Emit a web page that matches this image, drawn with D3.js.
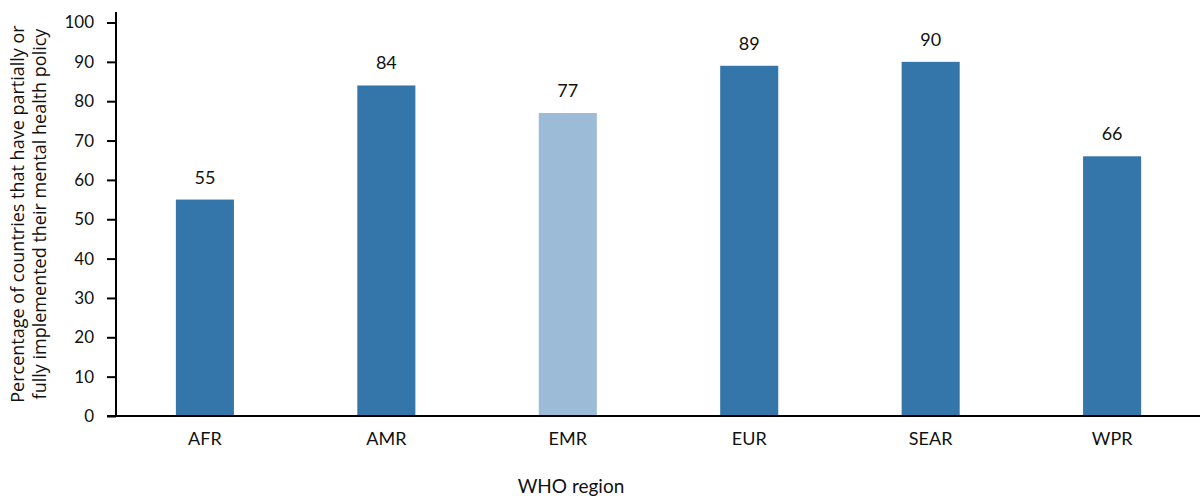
<!DOCTYPE html>
<html>
<head>
<meta charset="utf-8">
<script src="https://cdn.jsdelivr.net/npm/d3@7"></script>
<style>
  html, body { margin: 0; padding: 0; background: #fff; }
  svg text { font-family: "Lato", "Open Sans", sans-serif; fill: #111; }
</style>
</head>
<body>
<svg id="chart" width="1200" height="496"></svg>
<script>
// WHO regions and share of countries with a partially/fully implemented policy
const regions = ["AFR", "AMR", "EMR", "EUR", "SEAR", "WPR"];
const percentages = [55, 84, 77, 89, 90, 66];
const barColors = ["#3476aa", "#3476aa", "#9bbbd6", "#3476aa", "#3476aa", "#3476aa"];
const yTicks = [0, 10, 20, 30, 40, 50, 60, 70, 80, 90, 100];
const yTitleLines = ["Percentage of countries that have partially or", "fully implemented their mental health policy"];
const xTitle = "WHO region";

const svg = d3.select("#chart");
const x0 = 116, x1 = 1201, yBase = 416, yTop = 22.5;

const x = d3.scaleBand().domain(regions).range([x0, x1])
  .paddingInner(0.68).paddingOuter(0.33);
const y = d3.scaleLinear().domain([0, 100]).range([yBase, yTop]);

// bars
svg.append("g").selectAll("rect").data(regions).join("rect")
  .attr("x", d => x(d))
  .attr("width", x.bandwidth())
  .attr("y", (d, i) => y(percentages[i]))
  .attr("height", (d, i) => yBase - y(percentages[i]))
  .attr("fill", (d, i) => barColors[i]);

// value labels
svg.append("g").selectAll("text").data(regions).join("text")
  .attr("x", d => x(d) + x.bandwidth() / 2)
  .attr("y", (d, i) => y(percentages[i]) - 16)
  .attr("text-anchor", "middle")
  .attr("font-size", 18)
  .text((d, i) => percentages[i]);

// y axis
const yAxis = d3.axisLeft(y).tickValues(yTicks).tickSize(9).tickPadding(13).tickSizeOuter(0);
const gy = svg.append("g").attr("transform", `translate(${x0},0)`).call(yAxis);
gy.select(".domain").remove();
gy.selectAll(".tick line").attr("stroke", "#000").attr("stroke-width", 2);
gy.selectAll(".tick text").attr("font-size", 17).attr("fill", "#111");
gy.append("line").attr("x1", 0).attr("x2", 0).attr("y1", 12).attr("y2", yBase + 1)
  .attr("stroke", "#000").attr("stroke-width", 2);

// x axis
const xAxis = d3.axisBottom(x).tickSize(0).tickPadding(16);
const gx = svg.append("g").attr("transform", `translate(0,${yBase})`).call(xAxis);
gx.select(".domain").remove();
gx.selectAll(".tick text").attr("font-size", 18).attr("fill", "#111");
svg.append("line").attr("x1", 107).attr("x2", 1200).attr("y1", yBase).attr("y2", yBase)
  .attr("stroke", "#000").attr("stroke-width", 2);

// axis titles
const yt = svg.append("text")
  .attr("transform", "translate(18,214) rotate(-90)")
  .attr("text-anchor", "middle")
  .style("font-family", "'Open Sans', sans-serif")
  .style("font-size", "18px");
yTitleLines.forEach((line, i) => {
  yt.append("tspan").attr("x", 0).attr("dy", i === 0 ? "0.35em" : 22).text(line);
});

svg.append("text")
  .attr("x", 571).attr("y", 493)
  .attr("text-anchor", "middle")
  .attr("font-size", 19)
  .text(xTitle);
</script>
</body>
</html>
